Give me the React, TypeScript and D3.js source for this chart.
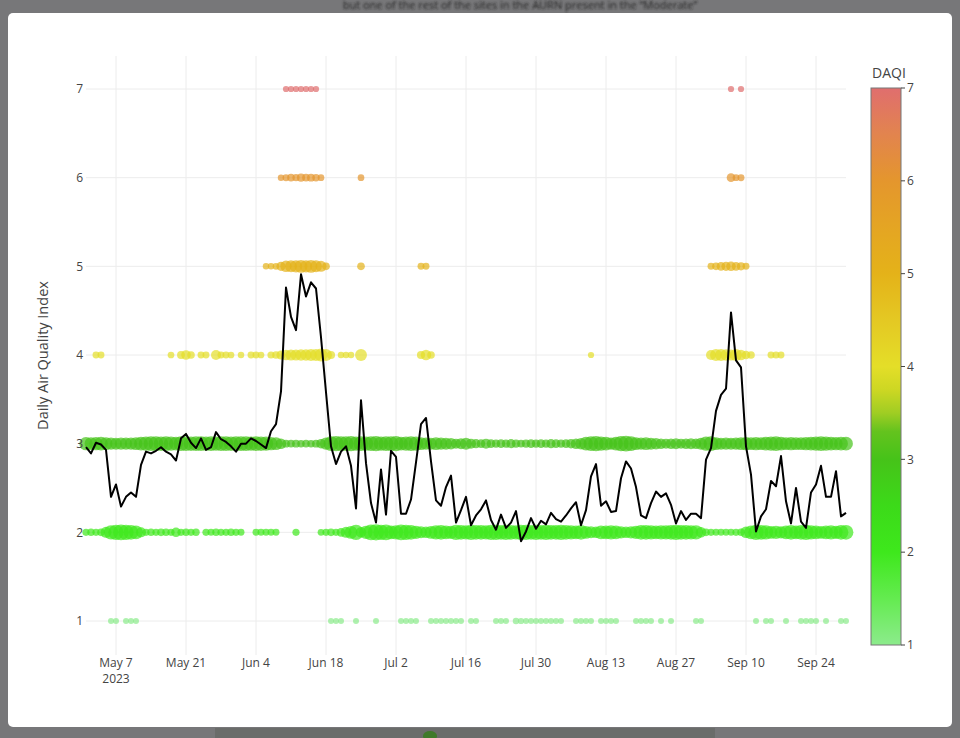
import * as d3 from "d3";
import React from "react";

// daily mean DAQI across sites, one value per day from May 1 2023
const START = "2023-05-01";
const END = "2023-09-30";
const dailyMean = [
  2.96, 2.89, 3.01, 2.99, 2.93, 2.4, 2.54, 2.29, 2.4, 2.45, 2.4, 2.76, 2.91, 2.89, 2.92, 2.96, 2.91, 2.88, 2.81, 3.06,
  3.11, 3.01, 2.95, 3.06, 2.93, 2.96, 3.13, 3.05, 3.02, 2.97, 2.91, 3.0, 3.0, 3.06, 3.03, 2.99, 2.95, 3.14, 3.22, 3.59,
  4.76, 4.43, 4.28, 4.91, 4.66, 4.82, 4.75, 4.2, 3.58, 2.97, 2.77, 2.91, 2.97, 2.75, 2.27, 3.49, 2.78, 2.33, 2.11, 2.71,
  2.2, 2.92, 2.85, 2.21, 2.21, 2.37, 2.79, 3.22, 3.29, 2.8, 2.36, 2.3, 2.51, 2.64, 2.11, 2.25, 2.4, 2.08, 2.19, 2.26,
  2.36, 2.14, 2.03, 2.2, 2.05, 2.11, 2.24, 1.9, 2.01, 2.16, 2.04, 2.13, 2.09, 2.22, 2.15, 2.12, 2.19, 2.27, 2.34, 2.08,
  2.25, 2.63, 2.77, 2.3, 2.35, 2.23, 2.24, 2.61, 2.8, 2.72, 2.51, 2.19, 2.16, 2.33, 2.46, 2.4, 2.44, 2.31, 2.1, 2.24,
  2.14, 2.21, 2.21, 2.16, 2.82, 2.95, 3.37, 3.55, 3.62, 4.48, 3.94, 3.86, 2.97, 2.65, 2.01, 2.18, 2.26, 2.58, 2.52, 2.86,
  2.35, 2.1, 2.5, 2.12, 2.05, 2.45, 2.54, 2.75, 2.4, 2.4, 2.69, 2.18, 2.22,
];

// number of sites at index 2 and 3 each day (0 = none)
const sitesAt2 = [
  6, 7, 6, 8, 22, 36, 40, 42, 40, 38, 34, 18, 6, 7, 6, 8, 7, 6, 16, 6,
  7, 6, 7, 0, 6, 5, 7, 6, 6, 7, 6, 5, 0, 0, 5, 5, 5, 5, 5, 0,
  0, 0, 6, 0, 0, 0, 0, 4, 6, 8, 6, 12, 22, 30, 40, 20, 32, 42, 44, 40,
  42, 34, 36, 42, 40, 38, 32, 26, 24, 30, 36, 38, 34, 32, 40, 38, 36, 40, 38, 38,
  36, 40, 40, 38, 40, 38, 36, 40, 40, 38, 40, 38, 40, 38, 38, 40, 38, 36, 34, 38,
  30, 26, 24, 34, 34, 36, 34, 28, 24, 28, 32, 38, 38, 36, 34, 36, 36, 38, 40, 38,
  38, 36, 36, 20, 8, 6, 5, 5, 5, 5, 6, 7, 24, 34, 40, 38, 36, 30, 32, 28,
  34, 38, 34, 38, 40, 36, 34, 30, 34, 36, 32, 38, 38,
];
const sitesAt3 = [
  32, 30, 32, 33, 30, 28, 26, 28, 27, 28, 30, 34, 36, 38, 38, 37, 38, 36, 34, 38,
  38, 37, 38, 38, 36, 38, 36, 38, 38, 37, 38, 38, 38, 36, 38, 37, 36, 32, 30, 20,
  9, 8, 9, 7, 8, 7, 9, 16, 28, 38, 40, 38, 38, 40, 36, 38, 36, 38, 40, 36,
  38, 38, 40, 34, 36, 38, 36, 30, 28, 26, 30, 28, 26, 24, 18, 22, 26, 18, 14, 12,
  18, 12, 10, 12, 10, 14, 10, 8, 10, 12, 10, 12, 10, 14, 12, 10, 12, 16, 20, 24,
  34, 38, 40, 36, 34, 28, 34, 40, 42, 38, 30, 28, 30, 26, 24, 20, 18, 20, 22, 18,
  20, 22, 20, 26, 36, 38, 30, 26, 28, 26, 28, 30, 32, 30, 32, 30, 34, 36, 38, 34,
  30, 32, 30, 30, 32, 34, 36, 38, 36, 34, 32, 34, 34,
];

// sparse indices: [date, sites]
const sitesAt1: [string, number][] = [
  ["2023-05-06", 1], ["2023-05-07", 1], ["2023-05-09", 1], ["2023-05-10", 1], ["2023-05-11", 1],
  ["2023-06-19", 1], ["2023-06-20", 1], ["2023-06-21", 1], ["2023-06-24", 1], ["2023-06-28", 1],
  ["2023-07-03", 1], ["2023-07-04", 1], ["2023-07-05", 1], ["2023-07-06", 1],
  ["2023-07-09", 1], ["2023-07-10", 1], ["2023-07-11", 1], ["2023-07-12", 1], ["2023-07-13", 1], ["2023-07-14", 1], ["2023-07-15", 1],
  ["2023-07-17", 1], ["2023-07-18", 1], ["2023-07-22", 1], ["2023-07-23", 1], ["2023-07-24", 1],
  ["2023-07-26", 3], ["2023-07-27", 2], ["2023-07-28", 1], ["2023-07-29", 1], ["2023-07-30", 1], ["2023-07-31", 1],
  ["2023-08-01", 1], ["2023-08-02", 1], ["2023-08-03", 1], ["2023-08-04", 1],
  ["2023-08-07", 1], ["2023-08-08", 1], ["2023-08-09", 1], ["2023-08-10", 1],
  ["2023-08-12", 1], ["2023-08-13", 1], ["2023-08-14", 1], ["2023-08-15", 1],
  ["2023-08-19", 1], ["2023-08-20", 1], ["2023-08-21", 1], ["2023-08-22", 1], ["2023-08-24", 1], ["2023-08-26", 1],
  ["2023-08-31", 1], ["2023-09-01", 1], ["2023-09-12", 1], ["2023-09-14", 1], ["2023-09-15", 1], ["2023-09-18", 1],
  ["2023-09-21", 1], ["2023-09-22", 1], ["2023-09-23", 1], ["2023-09-24", 1], ["2023-09-26", 1], ["2023-09-29", 1], ["2023-09-30", 1],
];
const sitesAt4: [string, number][] = [
  ["2023-05-03", 5], ["2023-05-04", 5], ["2023-05-18", 4], ["2023-05-20", 9], ["2023-05-21", 16], ["2023-05-22", 8],
  ["2023-05-24", 5], ["2023-05-25", 5], ["2023-05-27", 18], ["2023-05-28", 5], ["2023-05-29", 5], ["2023-05-30", 4],
  ["2023-06-01", 3], ["2023-06-03", 5], ["2023-06-04", 5], ["2023-06-05", 4], ["2023-06-07", 6], ["2023-06-08", 8],
  ["2023-06-09", 14], ["2023-06-10", 20], ["2023-06-11", 22], ["2023-06-12", 22], ["2023-06-13", 24], ["2023-06-14", 24],
  ["2023-06-15", 26], ["2023-06-16", 26], ["2023-06-17", 30], ["2023-06-18", 26], ["2023-06-19", 10],
  ["2023-06-21", 3], ["2023-06-22", 3], ["2023-06-23", 3], ["2023-06-25", 26],
  ["2023-07-07", 10], ["2023-07-08", 20], ["2023-07-09", 8], ["2023-08-10", 2],
  ["2023-09-03", 18], ["2023-09-04", 26], ["2023-09-05", 26], ["2023-09-06", 24], ["2023-09-07", 22], ["2023-09-08", 26],
  ["2023-09-09", 20], ["2023-09-10", 12], ["2023-09-11", 8], ["2023-09-15", 5], ["2023-09-16", 6], ["2023-09-17", 5],
];
const sitesAt5: [string, number][] = [
  ["2023-06-06", 3], ["2023-06-07", 3], ["2023-06-08", 4], ["2023-06-09", 14], ["2023-06-10", 24], ["2023-06-11", 26],
  ["2023-06-12", 28], ["2023-06-13", 30], ["2023-06-14", 28], ["2023-06-15", 30], ["2023-06-16", 26], ["2023-06-17", 22],
  ["2023-06-18", 8], ["2023-06-25", 8], ["2023-07-07", 5], ["2023-07-08", 5],
  ["2023-09-03", 5], ["2023-09-04", 8], ["2023-09-05", 12], ["2023-09-06", 14], ["2023-09-07", 16], ["2023-09-08", 12],
  ["2023-09-09", 10], ["2023-09-10", 5],
];
const sitesAt6: [string, number][] = [
  ["2023-06-09", 3], ["2023-06-10", 5], ["2023-06-11", 8], ["2023-06-12", 6], ["2023-06-13", 10], ["2023-06-14", 8],
  ["2023-06-15", 9], ["2023-06-16", 7], ["2023-06-17", 4], ["2023-06-25", 4],
  ["2023-09-07", 12], ["2023-09-08", 4], ["2023-09-09", 5],
];
const sitesAt7: [string, number][] = [
  ["2023-06-10", 2], ["2023-06-11", 2], ["2023-06-12", 2], ["2023-06-13", 2], ["2023-06-14", 2], ["2023-06-15", 2],
  ["2023-06-16", 2], ["2023-09-07", 2], ["2023-09-09", 2],
];

const tickDates = [
  "2023-05-07", "2023-05-21", "2023-06-04", "2023-06-18", "2023-07-02", "2023-07-16",
  "2023-07-30", "2023-08-13", "2023-08-27", "2023-09-10", "2023-09-24",
];
const yTicks = [1, 2, 3, 4, 5, 6, 7];

const daqiColours: [number, string][] = [
  [1, "rgb(140,235,140)"], [1.5, "rgb(100,235,80)"], [2, "rgb(62,232,28)"], [2.5, "rgb(60,218,25)"],
  [3, "rgb(70,195,25)"], [3.3, "rgb(100,195,30)"], [3.5, "rgb(160,205,35)"], [3.75, "rgb(205,215,35)"],
  [4, "rgb(228,222,40)"], [4.5, "rgb(228,200,35)"], [5, "rgb(228,178,25)"], [5.5, "rgb(228,165,35)"],
  [6, "rgb(228,150,45)"], [6.5, "rgb(226,132,78)"], [7, "rgb(224,110,110)"],
];

const W = 960, H = 738;
const plot = { left: 86, right: 846, top: 56, bottom: 655 };
const font = '"Open Sans", "Noto Sans", sans-serif';

export default function App() {
  const parse = d3.timeParse("%Y-%m-%d");
  const start = parse(START)!;
  const days = dailyMean.map((_, i) => d3.timeDay.offset(start, i));

  const x = d3.scaleTime().domain([start, parse(END)!]).range([plot.left, plot.right]);
  const y = d3.scaleLinear().domain([1, 7]).range([621, 89]);
  const size = d3.scaleLinear().domain([1, 60]).range([6, 20]);
  const colour = d3
    .scaleLinear<string>()
    .domain(daqiColours.map((d) => d[0]))
    .range(daqiColours.map((d) => d[1]))
    .interpolate(d3.interpolateRgb);

  type Pt = { date: Date; level: number; n: number };
  const pts: Pt[] = [];
  const sparse = (arr: [string, number][], level: number) =>
    arr.forEach(([d, n]) => pts.push({ date: parse(d)!, level, n }));
  sparse(sitesAt1, 1);
  sitesAt2.forEach((n, i) => n > 0 && pts.push({ date: days[i], level: 2, n }));
  sitesAt3.forEach((n, i) => n > 0 && pts.push({ date: days[i], level: 3, n }));
  sparse(sitesAt4, 4);
  sparse(sitesAt5, 5);
  sparse(sitesAt6, 6);
  sparse(sitesAt7, 7);

  const line = d3
    .line<number>()
    .x((_, i) => x(days[i]))
    .y((d) => y(d));

  const fmt = d3.timeFormat("%b %-d");
  const cb = { x: 871, w: 30, top: 88, bottom: 645 };
  const cy = d3.scaleLinear().domain([1, 7]).range([cb.bottom, cb.top]);

  return (
    <svg width={W} height={H} style={{ position: "fixed", left: 0, top: 0 }} fontFamily={font}>
      <defs>
        <linearGradient id="daqi" x1="0" y1="1" x2="0" y2="0">
          {daqiColours.map(([v, c]) => (
            <stop key={v} offset={(v - 1) / 6} stopColor={c} />
          ))}
        </linearGradient>
        <filter id="blur">
          <feGaussianBlur stdDeviation="1" />
        </filter>
      </defs>

      {/* page behind the modal */}
      <rect width={W} height={H} fill="#777779" />
      <text x={520} y={9} textAnchor="middle" fontSize={11} fill="#262626" filter="url(#blur)">
        but one of the rest of the sites in the AURN present in the “Moderate”
      </text>
      <rect x={215} y={728} width={500} height={10} fill="#6a6c6a" />
      <ellipse cx={430} cy={736} rx={7} ry={5} fill="#3f7a2a" />

      <rect x={8} y={13} width={944} height={714} rx={5} fill="#fff" />

      {/* grid */}
      <g stroke="#ececec" strokeWidth={1}>
        {tickDates.map((d) => (
          <line key={d} x1={x(parse(d)!)} x2={x(parse(d)!)} y1={plot.top} y2={plot.bottom} />
        ))}
        {yTicks.map((t) => (
          <line key={t} x1={plot.left} x2={plot.right} y1={y(t)} y2={y(t)} />
        ))}
      </g>

      {/* sites per index */}
      <g>
        {pts.map((p, i) => (
          <circle
            key={i}
            cx={x(p.date)}
            cy={y(p.level)}
            r={size(p.n) / 2}
            fill={colour(p.level)}
            fillOpacity={0.7}
          />
        ))}
      </g>

      <path d={line(dailyMean) ?? ""} fill="none" stroke="#000" strokeWidth={2} strokeLinejoin="round" />

      {/* axes text */}
      <g fontSize={12} fill="#444">
        {tickDates.map((d) => (
          <text key={d} x={x(parse(d)!)} y={667} textAnchor="middle">
            {fmt(parse(d)!)}
          </text>
        ))}
        <text x={x(parse(tickDates[0])!)} y={683} textAnchor="middle">
          2023
        </text>
        {yTicks.map((t) => (
          <text key={t} x={83} y={y(t)} dy="0.35em" textAnchor="end">
            {t}
          </text>
        ))}
      </g>
      <text
        transform={`translate(48,${(plot.top + plot.bottom) / 2}) rotate(-90)`}
        textAnchor="middle"
        fontSize={14.5}
        fill="#444"
      >
        Daily Air Quality Index
      </text>

      {/* colour bar */}
      <text x={889} y={78} textAnchor="middle" fontSize={14} fill="#444">
        DAQI
      </text>
      <rect
        x={cb.x}
        y={cb.top}
        width={cb.w}
        height={cb.bottom - cb.top}
        fill="url(#daqi)"
        stroke="#777"
        strokeWidth={1}
      />
      <g fontSize={12} fill="#444">
        {yTicks.map((t) => (
          <g key={t}>
            <line x1={cb.x + cb.w} x2={cb.x + cb.w + 4} y1={cy(t)} y2={cy(t)} stroke="#444" />
            <text x={cb.x + cb.w + 6} y={cy(t)} dy="0.35em">
              {t}
            </text>
          </g>
        ))}
      </g>
    </svg>
  );
}
